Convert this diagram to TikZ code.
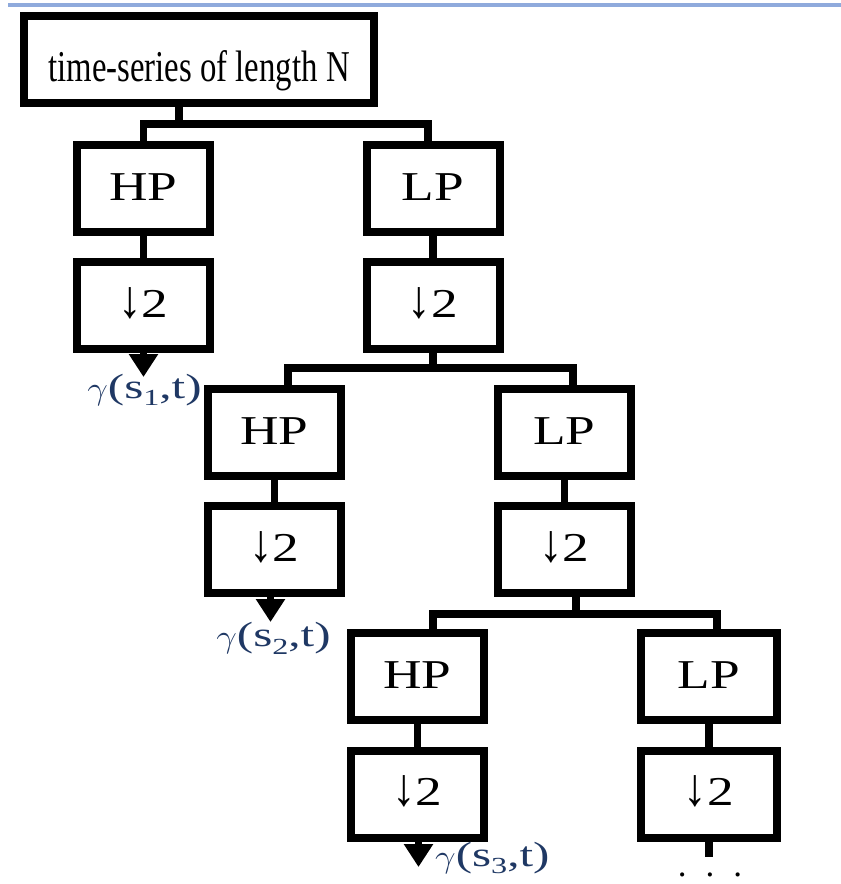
\documentclass[tikz,border=0pt]{standalone}
\usepackage{graphicx}
\usepackage{fontspec}
\setmainfont{Liberation Serif}
\usetikzlibrary{arrows.meta}
\definecolor{topline}{HTML}{8FAADC}
\definecolor{gcol}{HTML}{1F3864}
\newcommand\hstr[1]{\scalebox{1.3}[1]{#1}}
\newcommand\gstr[1]{\scalebox{1.4}[1]{#1}}
\newcommand\ggam{\raisebox{-1pt}{\scalebox{1.05}[1.3]{$\gamma$}}}
\newcommand\gsub[1]{\raisebox{-0.22em}{\fontsize{23}{23}\selectfont #1}}
\newcommand\dtwo{\raisebox{6pt}{\scalebox{1.15}[1.3]{↓}\hstr{2}}\hspace{18pt}}
\begin{document}
\begin{tikzpicture}[x=1pt,y=-1pt,
  box/.style={draw,line width=8pt,minimum width=133pt,minimum height=87pt,inner sep=0pt,font=\fontsize{41}{41}\selectfont},
  conn/.style={line width=7.5pt},
  outarrow/.style={conn,-{Triangle[length=23pt,width=28pt]}},
  lbl/.style={text=gcol,font=\fontsize{35}{35}\selectfont,inner sep=0pt}]
\useasboundingbox (0,0) rectangle (841,884);
\fill[white] (0,0) rectangle (841,884);
\draw[topline,line width=4pt] (8,4.5) -- (841,4.5);

% nodes
\node[box,minimum width=350pt,font=\fontsize{44}{44}\selectfont] (top) at (199,59.5) {\raisebox{-22pt}[0pt][0pt]{\scalebox{0.745}[1]{time-series of length N}}};
\node[box] (HP1) at (143.5,188) {\raisebox{2.5pt}{\hstr{HP}}};
\node[box] (D1a) at (143.5,305.5) {\dtwo};
\node[box] (LP1) at (433,188) {\raisebox{2.5pt}{\hstr{LP}}};
\node[box] (D1b) at (433,305.5) {\dtwo};
\node[box] (HP2) at (274.5,432) {\raisebox{2.5pt}{\hstr{HP}}};
\node[box] (D2a) at (274.5,549.5) {\dtwo};
\node[box] (LP2) at (564.5,432) {\raisebox{2.5pt}{\hstr{LP}}};
\node[box] (D2b) at (564.5,549.5) {\dtwo};
\node[box] (HP3) at (417.5,676.5) {\raisebox{2.5pt}{\hstr{HP}}};
\node[box] (D3a) at (417.5,794) {\dtwo};
\node[box,minimum width=136pt] (LP3) at (709,676.5) {\raisebox{2.5pt}{\hstr{LP}}};
\node[box,minimum width=136pt] (D3b) at (709,794) {\dtwo};

% output labels
\node[lbl] (g1) at (144.5,390) {\gstr{\ggam(s\gsub{1},t)}};
\node[lbl] (g2) at (273.5,638) {\gstr{\ggam(s\gsub{2},t)}};
\node[lbl,anchor=west] (g3) at (435,858) {\gstr{\ggam(s\gsub{3},t)}};
\node[font=\fontsize{35}{35}\selectfont,anchor=base,inner sep=0pt] (dots) at (710,876) {.\hspace{19pt}.\hspace{19pt}.};

% junction coordinates
\coordinate (y1) at (0,124);
\coordinate (y2) at (0,368);
\coordinate (y3) at (0,614);
\coordinate (y4) at (0,857);
\coordinate (a1) at (143.5,377);
\coordinate (a2) at (270.5,622);
\coordinate (a3) at (418.5,867);

% level 1
\draw[conn] ([xshift=-20pt]top.south) -- ([xshift=-20pt]top.south |- y1);
\draw[conn] (HP1.north) |- ([xshift=-5pt]LP1.north |- y1) -- ([xshift=-5pt]LP1.north);
\draw[conn] (HP1.south) -- (D1a.north);
\draw[conn] (LP1.south) -- (D1b.north);
\draw[outarrow] (D1a.south) -- (a1);

% level 2
\draw[conn] (D1b.south) -- (D1b.south |- y2);
\draw[conn] ([xshift=13.5pt]HP2.north) |- ([xshift=8.5pt]LP2.north |- y2) -- ([xshift=8.5pt]LP2.north);
\draw[conn] (HP2.south) -- (D2a.north);
\draw[conn] (LP2.south) -- (D2b.north);
\draw[outarrow] ([xshift=-4pt]D2a.south) -- (a2);

% level 3
\draw[conn] ([xshift=11.5pt]D2b.south) -- ([xshift=11.5pt]D2b.south |- y3);
\draw[conn] ([xshift=15.5pt]HP3.north) |- ([xshift=8pt]LP3.north |- y3) -- ([xshift=8pt]LP3.north);
\draw[conn] (HP3.south) -- (D3a.north);
\draw[conn] (LP3.south) -- (D3b.north);
\draw[outarrow] ([xshift=1pt]D3a.south) -- (a3);
\draw[conn] (D3b.south) -- (D3b.south |- y4);
\end{tikzpicture}
\end{document}
